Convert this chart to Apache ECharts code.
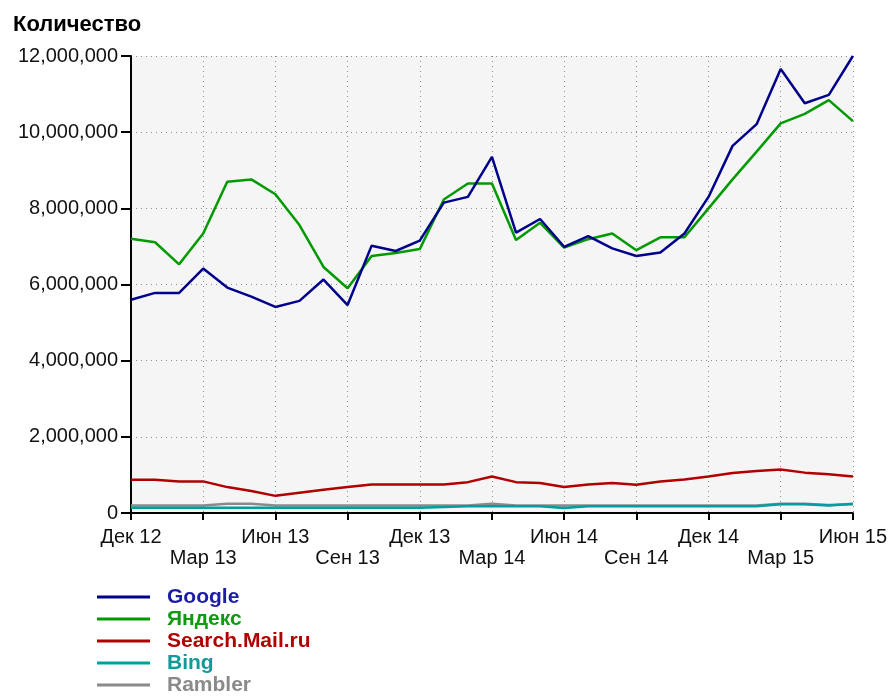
<!DOCTYPE html>
<html>
<head>
<meta charset="utf-8">
<script src="https://cdn.jsdelivr.net/npm/echarts@6/dist/echarts.min.js"></script>
<style>
  html, body { margin: 0; padding: 0; background: #fff; }
  #chart { width: 890px; height: 696px; }
</style>
</head>
<body>
<div id="chart"></div>
<script>
// месяцы: Дек 12 .. Июн 15
var months = [
  'Дек 12', 'Янв 13', 'Фев 13', 'Мар 13', 'Апр 13', 'Май 13', 'Июн 13', 'Июл 13', 'Авг 13',
  'Сен 13', 'Окт 13', 'Ноя 13', 'Дек 13', 'Янв 14', 'Фев 14', 'Мар 14', 'Апр 14', 'Май 14',
  'Июн 14', 'Июл 14', 'Авг 14', 'Сен 14', 'Окт 14', 'Ноя 14', 'Дек 14', 'Янв 15', 'Фев 15',
  'Мар 15', 'Апр 15', 'Май 15', 'Июн 15'
]

var google = [
  5.60, 5.78, 5.78, 6.42, 5.92, 5.68, 5.41, 5.57, 6.13, 5.46, 7.02, 6.88, 7.15, 8.15, 8.30, 9.35,
  7.36, 7.72, 6.99, 7.27, 6.95, 6.75, 6.84, 7.34, 8.30, 9.64, 10.21, 11.66, 10.76, 10.98, 12.0
]
var yandex = [
  7.20, 7.11, 6.53, 7.34, 8.70, 8.76, 8.37, 7.56, 6.46, 5.90, 6.75, 6.83, 6.93, 8.23, 8.65, 8.65,
  7.17, 7.62, 6.97, 7.19, 7.34, 6.90, 7.24, 7.24, 8.00, 8.76, 9.49, 10.23, 10.48, 10.84, 10.29
]
var mail = [
  0.87, 0.87, 0.83, 0.83, 0.68, 0.58, 0.45, 0.53, 0.61, 0.68, 0.75, 0.75, 0.75, 0.75, 0.81, 0.96,
  0.81, 0.79, 0.68, 0.75, 0.79, 0.74, 0.83, 0.88, 0.96, 1.05, 1.10, 1.14, 1.06, 1.02, 0.96
]
var bing = [
  0.14, 0.14, 0.14, 0.14, 0.14, 0.14, 0.14, 0.14, 0.14, 0.14, 0.14, 0.14, 0.14, 0.16, 0.18, 0.18,
  0.18, 0.18, 0.13, 0.18, 0.18, 0.18, 0.18, 0.18, 0.18, 0.18, 0.18, 0.23, 0.23, 0.20, 0.24
]
var rambler = [
  0.20, 0.20, 0.20, 0.20, 0.24, 0.24, 0.20, 0.20, 0.20, 0.20, 0.20, 0.20, 0.20, 0.20, 0.20, 0.24,
  0.20, 0.20, 0.20, 0.20, 0.20, 0.20, 0.20, 0.20, 0.20, 0.20, 0.20, 0.24, 0.24, 0.21, 0.23
]

var names = ['Google', 'Яндекс', 'Search.Mail.ru', 'Bing', 'Rambler']
var colors = ['#00008b', '#009a00', '#b00000', '#009f9f', '#8a8a8a']
var textColors = ['#1c1ca8', '#109a10', '#b00000', '#109a9a', '#8a8a8a']

function mln (arr) {
  return arr.map(function (v) { return Math.round(v * 1000000) })
}

var chart = echarts.init(document.getElementById('chart'))

var dotted = { color: '#8c8c8c', width: 1, type: [1, 4] }

var seriesData = [google, yandex, mail, bing, rambler]
var zs = [6, 5, 4, 3, 2]

chart.setOption({
  animation: false,
  color: colors,
  title: {
    text: 'Количество',
    left: 8,
    top: 9,
    textStyle: { fontFamily: 'Liberation Sans', fontSize: 22, fontWeight: 'bold', color: '#000' }
  },
  grid: {
    left: 131,
    right: 34,
    top: 56,
    bottom: 183,
    show: true,
    backgroundColor: '#f5f5f5',
    borderWidth: 0
  },
  legend: {
    orient: 'vertical',
    left: 97,
    top: 586,
    height: 110,
    padding: 0,
    icon: 'rect',
    itemWidth: 53,
    itemHeight: 3,
    itemGap: 0,
    data: names.map(function (n, i) {
      return { name: n, textStyle: { color: textColors[i] } }
    }),
    textStyle: {
      fontFamily: 'Liberation Sans',
      fontSize: 21,
      fontWeight: 'bold',
      lineHeight: 22,
      padding: [0, 0, 0, 12]
    }
  },
  xAxis: {
    type: 'category',
    data: months,
    boundaryGap: false,
    axisLine: { lineStyle: { color: '#000', width: 2 } },
    axisTick: { interval: 2, length: 7, lineStyle: { color: '#000', width: 2 } },
    axisLabel: {
      interval: 2,
      margin: 14,
      fontFamily: 'Liberation Sans',
      fontSize: 20,
      lineHeight: 21,
      color: '#111',
      formatter: function (val, idx) {
        return (idx / 3) % 2 === 1 ? '\n' + val : val
      }
    },
    splitLine: { show: true, interval: 2, lineStyle: dotted }
  },
  yAxis: {
    type: 'value',
    min: 0,
    max: 12000000,
    interval: 2000000,
    axisLine: { show: true, lineStyle: { color: '#000', width: 2 } },
    axisTick: { show: true, length: 10, lineStyle: { color: '#000', width: 2 } },
    axisLabel: {
      margin: 13,
      fontFamily: 'Liberation Sans',
      fontSize: 20,
      color: '#111',
      formatter: function (v) { return v.toLocaleString('en-US') }
    },
    splitLine: { show: true, lineStyle: dotted }
  },
  series: names.map(function (n, i) {
    return {
      name: n,
      type: 'line',
      data: mln(seriesData[i]),
      symbol: 'none',
      z: zs[i],
      lineStyle: { width: 2.5, color: colors[i] }
    }
  })
})
</script>
</body>
</html>
